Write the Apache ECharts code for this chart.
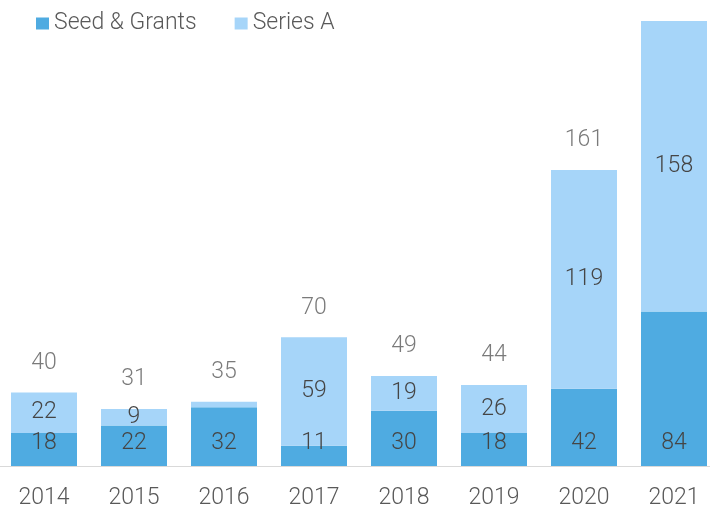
<!DOCTYPE html>
<html>
<head>
<meta charset="utf-8">
<script src="https://cdn.jsdelivr.net/npm/echarts@6/dist/echarts.min.js"></script>
<style>
  html, body { margin: 0; padding: 0; background: #fff; }
  #chart { width: 710px; height: 508px; }
</style>
</head>
<body>
<div id="chart"></div>
<script>
var years = ['2014', '2015', '2016', '2017', '2018', '2019', '2020', '2021'];
var seedGrants = [18, 22, 32, 11, 30, 18, 42, 84];
var seriesA = [22, 9, 3, 59, 19, 26, 119, 158];
// totals for 2021 are not printed in the original (off the top)
var hideTotalFor = ['2021'];

var totals = years.map(function (y, i) {
  var t = seedGrants[i] + seriesA[i];
  return hideTotalFor.indexOf(y) >= 0 ? { value: t, label: { show: false } } : t;
});

var font = 'Roboto';
var weight = 300;
var fs = 23;
var chart = echarts.init(document.getElementById('chart'));

chart.setOption({
  animation: false,
  textStyle: { fontFamily: font, fontWeight: weight },
  legend: {
    left: 31,
    top: 7,
    itemWidth: 13,
    itemHeight: 12,
    itemGap: 38,
    icon: 'rect',
    data: ['Seed & Grants', 'Series A'],
    textStyle: { fontSize: fs, color: '#595959', fontFamily: font, fontWeight: weight }
  },
  grid: {
    left: -1,
    width: 720,
    top: 21,
    bottom: 42,
    containLabel: false,
    outerBoundsMode: 'none'
  },
  xAxis: {
    type: 'category',
    data: years,
    axisTick: { show: false },
    axisLine: { lineStyle: { color: '#d9d9d9', width: 1 } },
    axisLabel: { fontSize: fs, color: '#595959', margin: 21, fontFamily: font, fontWeight: weight }
  },
  yAxis: {
    type: 'value',
    min: 0,
    max: 242,
    show: false,
    splitLine: { show: false }
  },
  series: [
    {
      name: 'Seed & Grants',
      type: 'bar',
      stack: 'total',
      barWidth: 66,
      data: seedGrants,
      itemStyle: { color: '#4FABE1' },
      label: {
        show: true,
        position: 'insideBottom',
        distance: 11,
        fontSize: fs,
        color: '#454545',
        fontFamily: font,
        fontWeight: weight
      }
    },
    {
      name: 'Series A',
      type: 'bar',
      stack: 'total',
      barWidth: 66,
      data: seriesA,
      itemStyle: { color: '#A6D5F9' },
      label: {
        show: true,
        position: 'inside',
        fontSize: fs,
        color: '#454545',
        fontFamily: font,
        fontWeight: weight,
        formatter: function (p) { return p.value < 5 ? '' : p.value; }
      }
    },
    {
      name: 'Total',
      type: 'scatter',
      symbolSize: 0,
      silent: true,
      data: totals,
      label: {
        show: true,
        position: 'top',
        distance: 18,
        fontSize: fs,
        color: '#595959',
        fontFamily: font,
        fontWeight: weight
      }
    }
  ]
});
</script>
</body>
</html>
